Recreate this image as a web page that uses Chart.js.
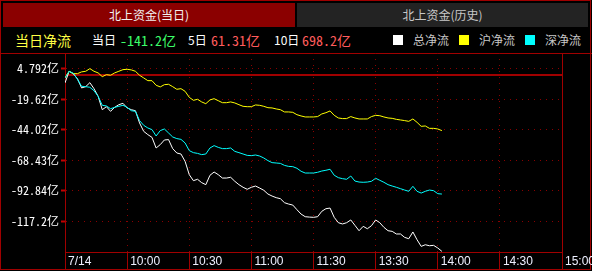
<!DOCTYPE html>
<html>
<head>
<meta charset="utf-8">
<script src="https://cdn.jsdelivr.net/npm/chart.js@4.4.0/dist/chart.umd.min.js"></script>
<style>
  html, body { margin: 0; padding: 0; background: #000; }
  #box { position: relative; width: 592px; height: 271px; overflow: hidden; background: #000;
         font-family: "Noto Sans CJK SC", sans-serif; }
  #frame { position: absolute; left: 0; top: 0; width: 591px; height: 270px; box-sizing: border-box;
           border: 1px solid #a00000; }
  .tab { position: absolute; top: 3px; height: 24px; line-height: 24px; text-align: center; font-size: 12px; }
  #tabToday { left: 3px; width: 292px; background: #8b0000; color: #f2f2f2; }
  #tabHist { left: 297px; width: 291px; background: #232323; color: #c8c8c8; }
  #headLine { position: absolute; left: 0; top: 53px; width: 592px; height: 1px; background: #a00000; }
  .h { position: absolute; white-space: nowrap; line-height: 16px; top: 32px; font-size: 12px; }
  .mono { font-family: "Noto Sans Mono CJK SC", "Liberation Mono", "Noto Sans CJK SC", monospace;
          font-size: 14px; line-height: 18px; top: 31px; }
  .sq { position: absolute; top: 35px; width: 10px; height: 10px; }
  canvas { position: absolute; left: 0; top: 0; }
</style>
</head>
<body>
<div id="box">
  <div id="frame"></div>
  <div class="tab" id="tabToday">北上资金(当日)</div>
  <div class="tab" id="tabHist">北上资金(历史)</div>
  <div id="header"></div>
  <div id="headLine"></div>
  <canvas id="flowChart" width="592" height="271"></canvas>
</div>
<script>
// minutes since 9:30 (trading minutes, lunch break removed), one sample every 2 minutes
const sampleStep = 2;
const totalFlow = [
  -6.6, 2.7, 0.6, -3.2, -10.6, -9.6, -6.4, -11.2, -17.3, -28.0,
  -25.6, -29.3, -26.1, -24.0, -22.9, -26.6, -28.0, -28.8, -38.6, -45.3,
  -47.9, -50.1, -58.6, -55.9, -52.2, -51.9, -59.1, -62.6, -63.4, -69.3,
  -79.9, -84.7, -83.6, -86.3, -87.9, -80.4, -77.8, -79.9, -82.6, -82.6,
  -82.0, -85.2, -87.9, -90.0, -91.6, -90.0, -89.0, -90.6, -92.4, -95.4,
  -97.0, -98.3, -99.1, -102.3, -103.4, -104.2, -107.9, -111.4, -113.5, -113.8,
  -114.0, -113.5, -109.2, -107.1, -106.6, -114.0, -118.3, -119.3, -118.3, -116.1,
  -120.4, -124.7, -121.2, -123.1, -120.7, -116.1, -118.3, -122.0, -124.7, -125.2,
  -127.3, -127.3, -130.0, -131.1, -125.7, -131.9, -137.2, -135.9, -136.7, -136.4,
  -138.5, -141.2
];
const shFlow = [
  -2.6, 2.7, 0.8, 0.8, 2.2, 2.7, 4.8, 2.7, 1.4, -1.6,
  0.0, -0.5, 1.4, 2.7, 4.0, 4.3, 3.8, 2.7, -0.5, -2.6,
  -4.8, -4.8, -8.5, -9.8, -8.0, -7.7, -9.6, -11.7, -11.2, -13.3,
  -18.1, -20.5, -19.7, -21.8, -23.2, -20.2, -19.2, -20.8, -22.4, -22.4,
  -21.8, -22.6, -24.0, -25.3, -25.6, -25.6, -24.2, -24.5, -25.3, -26.4,
  -26.6, -27.4, -28.0, -29.8, -29.8, -30.1, -32.0, -33.0, -33.8, -33.8,
  -33.8, -33.5, -31.4, -30.4, -29.0, -32.5, -34.6, -35.1, -35.1, -33.5,
  -34.6, -35.4, -35.4, -35.4, -33.5, -32.5, -32.8, -33.8, -34.6, -34.9,
  -35.7, -36.2, -36.7, -37.3, -35.4, -38.1, -41.3, -41.0, -42.9, -42.9,
  -43.4, -44.7
];
const szFlow = [
  -2.6, 2.7, 1.1, -3.7, -9.3, -9.6, -10.1, -12.8, -17.3, -24.5,
  -25.0, -27.2, -26.1, -25.3, -24.5, -26.1, -28.8, -29.3, -36.7, -40.5,
  -42.6, -43.9, -49.0, -44.7, -43.4, -46.6, -49.8, -51.1, -51.7, -54.6,
  -60.7, -62.3, -62.9, -63.9, -63.4, -58.6, -56.7, -58.1, -59.1, -59.1,
  -58.6, -61.3, -62.3, -63.4, -64.5, -64.7, -64.2, -65.0, -66.6, -68.7,
  -70.3, -70.6, -70.9, -72.5, -73.3, -73.5, -74.8, -77.2, -78.6, -78.6,
  -78.6, -78.0, -77.0, -76.4, -75.6, -80.4, -82.3, -83.1, -83.6, -81.0,
  -85.0, -85.8, -86.0, -85.8, -85.2, -82.8, -84.4, -86.0, -87.9, -89.0,
  -90.0, -91.1, -92.2, -93.2, -89.2, -93.2, -94.6, -93.2, -92.2, -92.7,
  -95.1, -95.4
];
const seriesNames = ["总净流", "沪净流", "深净流"];
const seriesColors = ["#ffffff", "#ffff00", "#00ffff"];

const timeTicks = [0, 30, 60, 90, 120, 150, 180, 210, 240];
const timeLabels = ["7/14", "10:00", "10:30", "11:00", "11:30", "13:30", "14:00", "14:30", "15:00"];
const yTicks = [4.792, -19.62, -44.02, -68.43, -92.84, -117.2];
const yTickLabels = ["4.792", "-19.62", "-44.02", "-68.43", "-92.84", "-117.2"];
const yMin = -141.7, yMax = 17.3;

// summary line: [label, value, colour]
const summary = [
  ["当日", "-141.2亿", "#3cff6a"],
  ["5日", "61.31亿", "#ff5c5c"],
  ["10日", "698.2亿", "#ff5c5c"]
];

// header texts
const header = document.getElementById("header");
function addText(txt, left, color, cls, extra) {
  const s = document.createElement("span");
  s.className = "h " + (cls || "");
  s.textContent = txt;
  s.style.left = left + "px";
  s.style.color = color;
  if (extra) Object.assign(s.style, extra);
  header.appendChild(s);
}
addText("当日净流", 15, "#ffff44", "", { fontSize: "14px", top: "31px", lineHeight: "18px" });
const sumPos = [[92, 120], [188, 211], [274, 302]];
summary.forEach((row, i) => {
  addText(row[0], sumPos[i][0], "#ffffff");
  addText(row[1], sumPos[i][1], row[2], "mono");
});
const legendPos = [[393, 413], [459, 479], [525, 545]];
seriesNames.forEach((name, i) => {
  const sq = document.createElement("div");
  sq.className = "sq";
  sq.style.left = legendPos[i][0] + "px";
  sq.style.background = seriesColors[i];
  header.appendChild(sq);
  addText(name, legendPos[i][1], "#c8c8c8");
});

const minutes = totalFlow.map((_, i) => i * sampleStep);
function points(values) {
  return values.map((v, i) => ({ x: minutes[i], y: v }));
}

const gridRed = "#8a0000";
const axisRed = "#a00000";

const framePlugin = {
  id: "framePlugin",
  beforeDatasetsDraw(chart) {
    const { ctx, chartArea, scales } = chart;
    const y0 = Math.round(scales.y.getPixelForValue(0));
    const xr = Math.round(chartArea.right) + 0.5;
    ctx.save();
    ctx.strokeStyle = axisRed;
    ctx.lineWidth = 2;
    ctx.beginPath();
    ctx.moveTo(chartArea.left, y0);
    ctx.lineTo(chartArea.right, y0);
    ctx.stroke();
    ctx.lineWidth = 1;
    ctx.beginPath();
    ctx.moveTo(xr, chartArea.top);
    ctx.lineTo(xr, chartArea.bottom);
    ctx.stroke();
    ctx.restore();
  }
};

const ctx = document.getElementById("flowChart").getContext("2d");
new Chart(ctx, {
  type: "line",
  data: {
    datasets: [
      { label: seriesNames[0], data: points(totalFlow), borderColor: seriesColors[0], order: 2 },
      { label: seriesNames[1], data: points(shFlow), borderColor: seriesColors[1], order: 1 },
      { label: seriesNames[2], data: points(szFlow), borderColor: seriesColors[2], order: 0 }
    ]
  },
  options: {
    responsive: false,
    animation: false,
    events: [],
    layout: { padding: { left: 0, top: 53, right: 30, bottom: 1 } },
    elements: {
      line: { borderWidth: 1, tension: 0, fill: false },
      point: { radius: 0 }
    },
    plugins: { legend: { display: false }, tooltip: { enabled: false } },
    scales: {
      x: {
        type: "linear",
        min: timeTicks[0],
        max: timeTicks[timeTicks.length - 1],
        afterBuildTicks: s => { s.ticks = timeTicks.map(v => ({ value: v })); },
        afterFit: s => { s.height = 18; s.paddingLeft = 0; s.paddingRight = 0; },
        grid: {
          color: c => (c.index === 0 || c.index === timeTicks.length - 1) ? "rgba(0,0,0,0)" : gridRed,
          lineWidth: 1,
          tickLength: 18,
          tickColor: axisRed,
          tickWidth: 1
        },
        border: { color: axisRed, width: 1, dash: [1, 5] },
        ticks: {
          color: "#eef0ff",
          font: { family: "Liberation Sans", size: 12 },
          align: "start",
          labelOffset: 3,
          padding: -16,
          maxRotation: 0,
          autoSkip: false,
          callback: (v, i) => timeLabels[i]
        }
      },
      y: {
        min: yMin,
        max: yMax,
        afterBuildTicks: s => { s.ticks = yTicks.map(v => ({ value: v })); },
        afterFit: s => { s.width = 65; s.paddingTop = 0; s.paddingBottom = 0; },
        grid: { color: gridRed, lineWidth: 1, tickLength: 4, tickColor: "#c00000", tickWidth: 2 },
        border: { color: axisRed, width: 1, dash: [1, 5] },
        ticks: {
          color: "#ffffff",
          padding: 2,
          font: { family: "'Noto Sans Mono CJK SC', 'Liberation Mono', 'Noto Sans CJK SC', monospace", size: 12 },
          callback: (v, i) => yTickLabels[i] + "亿"
        }
      }
    }
  },
  plugins: [framePlugin]
});
</script>
</body>
</html>
